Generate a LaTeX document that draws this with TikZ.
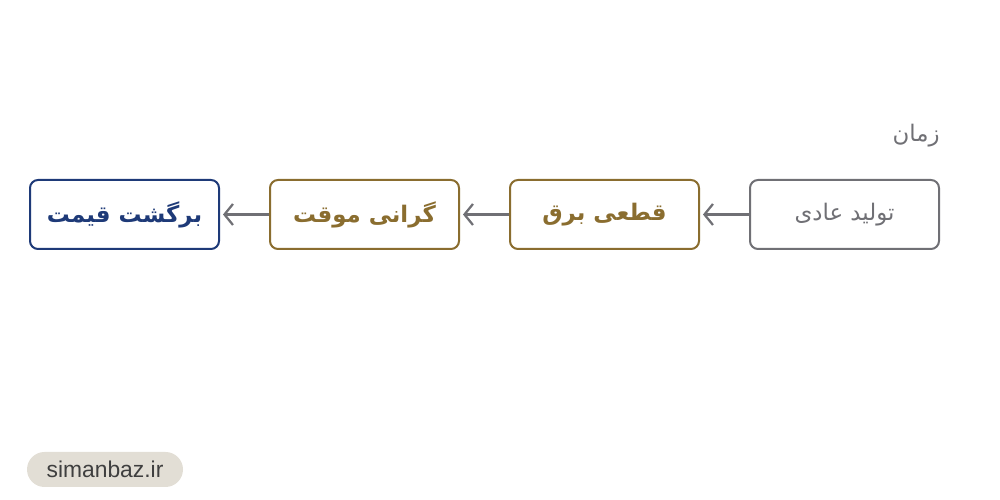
\documentclass[tikz,border=0pt]{standalone}
\usepackage{fontspec}
\setmainfont{Liberation Sans}
\newfontfamily\farsifont[Script=Arabic]{DejaVu Sans}
\TeXXeTstate=1
\usetikzlibrary{arrows.meta}
\definecolor{normgray}{HTML}{707075}
\definecolor{stepgold}{HTML}{8A6D2F}
\definecolor{stepblue}{HTML}{1E3A78}
\definecolor{pillfill}{HTML}{E2DED5}
\definecolor{pilltext}{HTML}{3F3F3F}
\begin{document}
\begin{tikzpicture}
	\tikzstyle{Box} = [rectangle, rounded corners=0.16cm, minimum width=3.78cm, minimum height=1.38cm, text centered, line width=0.04cm, fill=white, font=\farsifont\fontsize{13}{15}\selectfont]
	\tikzstyle{arrow} = [line width=0.045cm, draw=normgray, -{Straight Barb[length=1.7mm,width=4.2mm]}, shorten >=0.06cm]
	
	\useasboundingbox (0,0) rectangle (20,10);
	
	% time label
	\node (time) [anchor=east, inner sep=0pt, text=normgray, font=\farsifont\fontsize{13}{15}\selectfont] at (18.8,7.28) {\beginR زمان\endR};
	
	% stages, right to left
	\node (normal) [Box, draw=normgray, text=normgray] at (16.89,5.71) {\beginR تولید عادی\endR};
	\node (outage) [Box, draw=stepgold, text=stepgold, font=\farsifont\bfseries\fontsize{13}{15}\selectfont] at (12.09,5.71) {\beginR قطعی برق\endR};
	\node (expensive) [Box, draw=stepgold, text=stepgold, font=\farsifont\bfseries\fontsize{13}{15}\selectfont] at (7.29,5.71) {\beginR گرانی موقت\endR};
	\node (back) [Box, draw=stepblue, text=stepblue, font=\farsifont\bfseries\fontsize{13}{15}\selectfont] at (2.49,5.71) {\beginR برگشت قیمت\endR};
	
	\draw [arrow] (normal) -- (outage);
	\draw [arrow] (outage) -- (expensive);
	\draw [arrow] (expensive) -- (back);
	
	% site tag
	\node (site) [rectangle, rounded corners=0.35cm, minimum width=3.12cm, minimum height=0.7cm, fill=pillfill, text=pilltext, font=\fontsize{13}{15}\selectfont] at (2.1,0.61) {simanbaz.ir};
\end{tikzpicture}
\end{document}
